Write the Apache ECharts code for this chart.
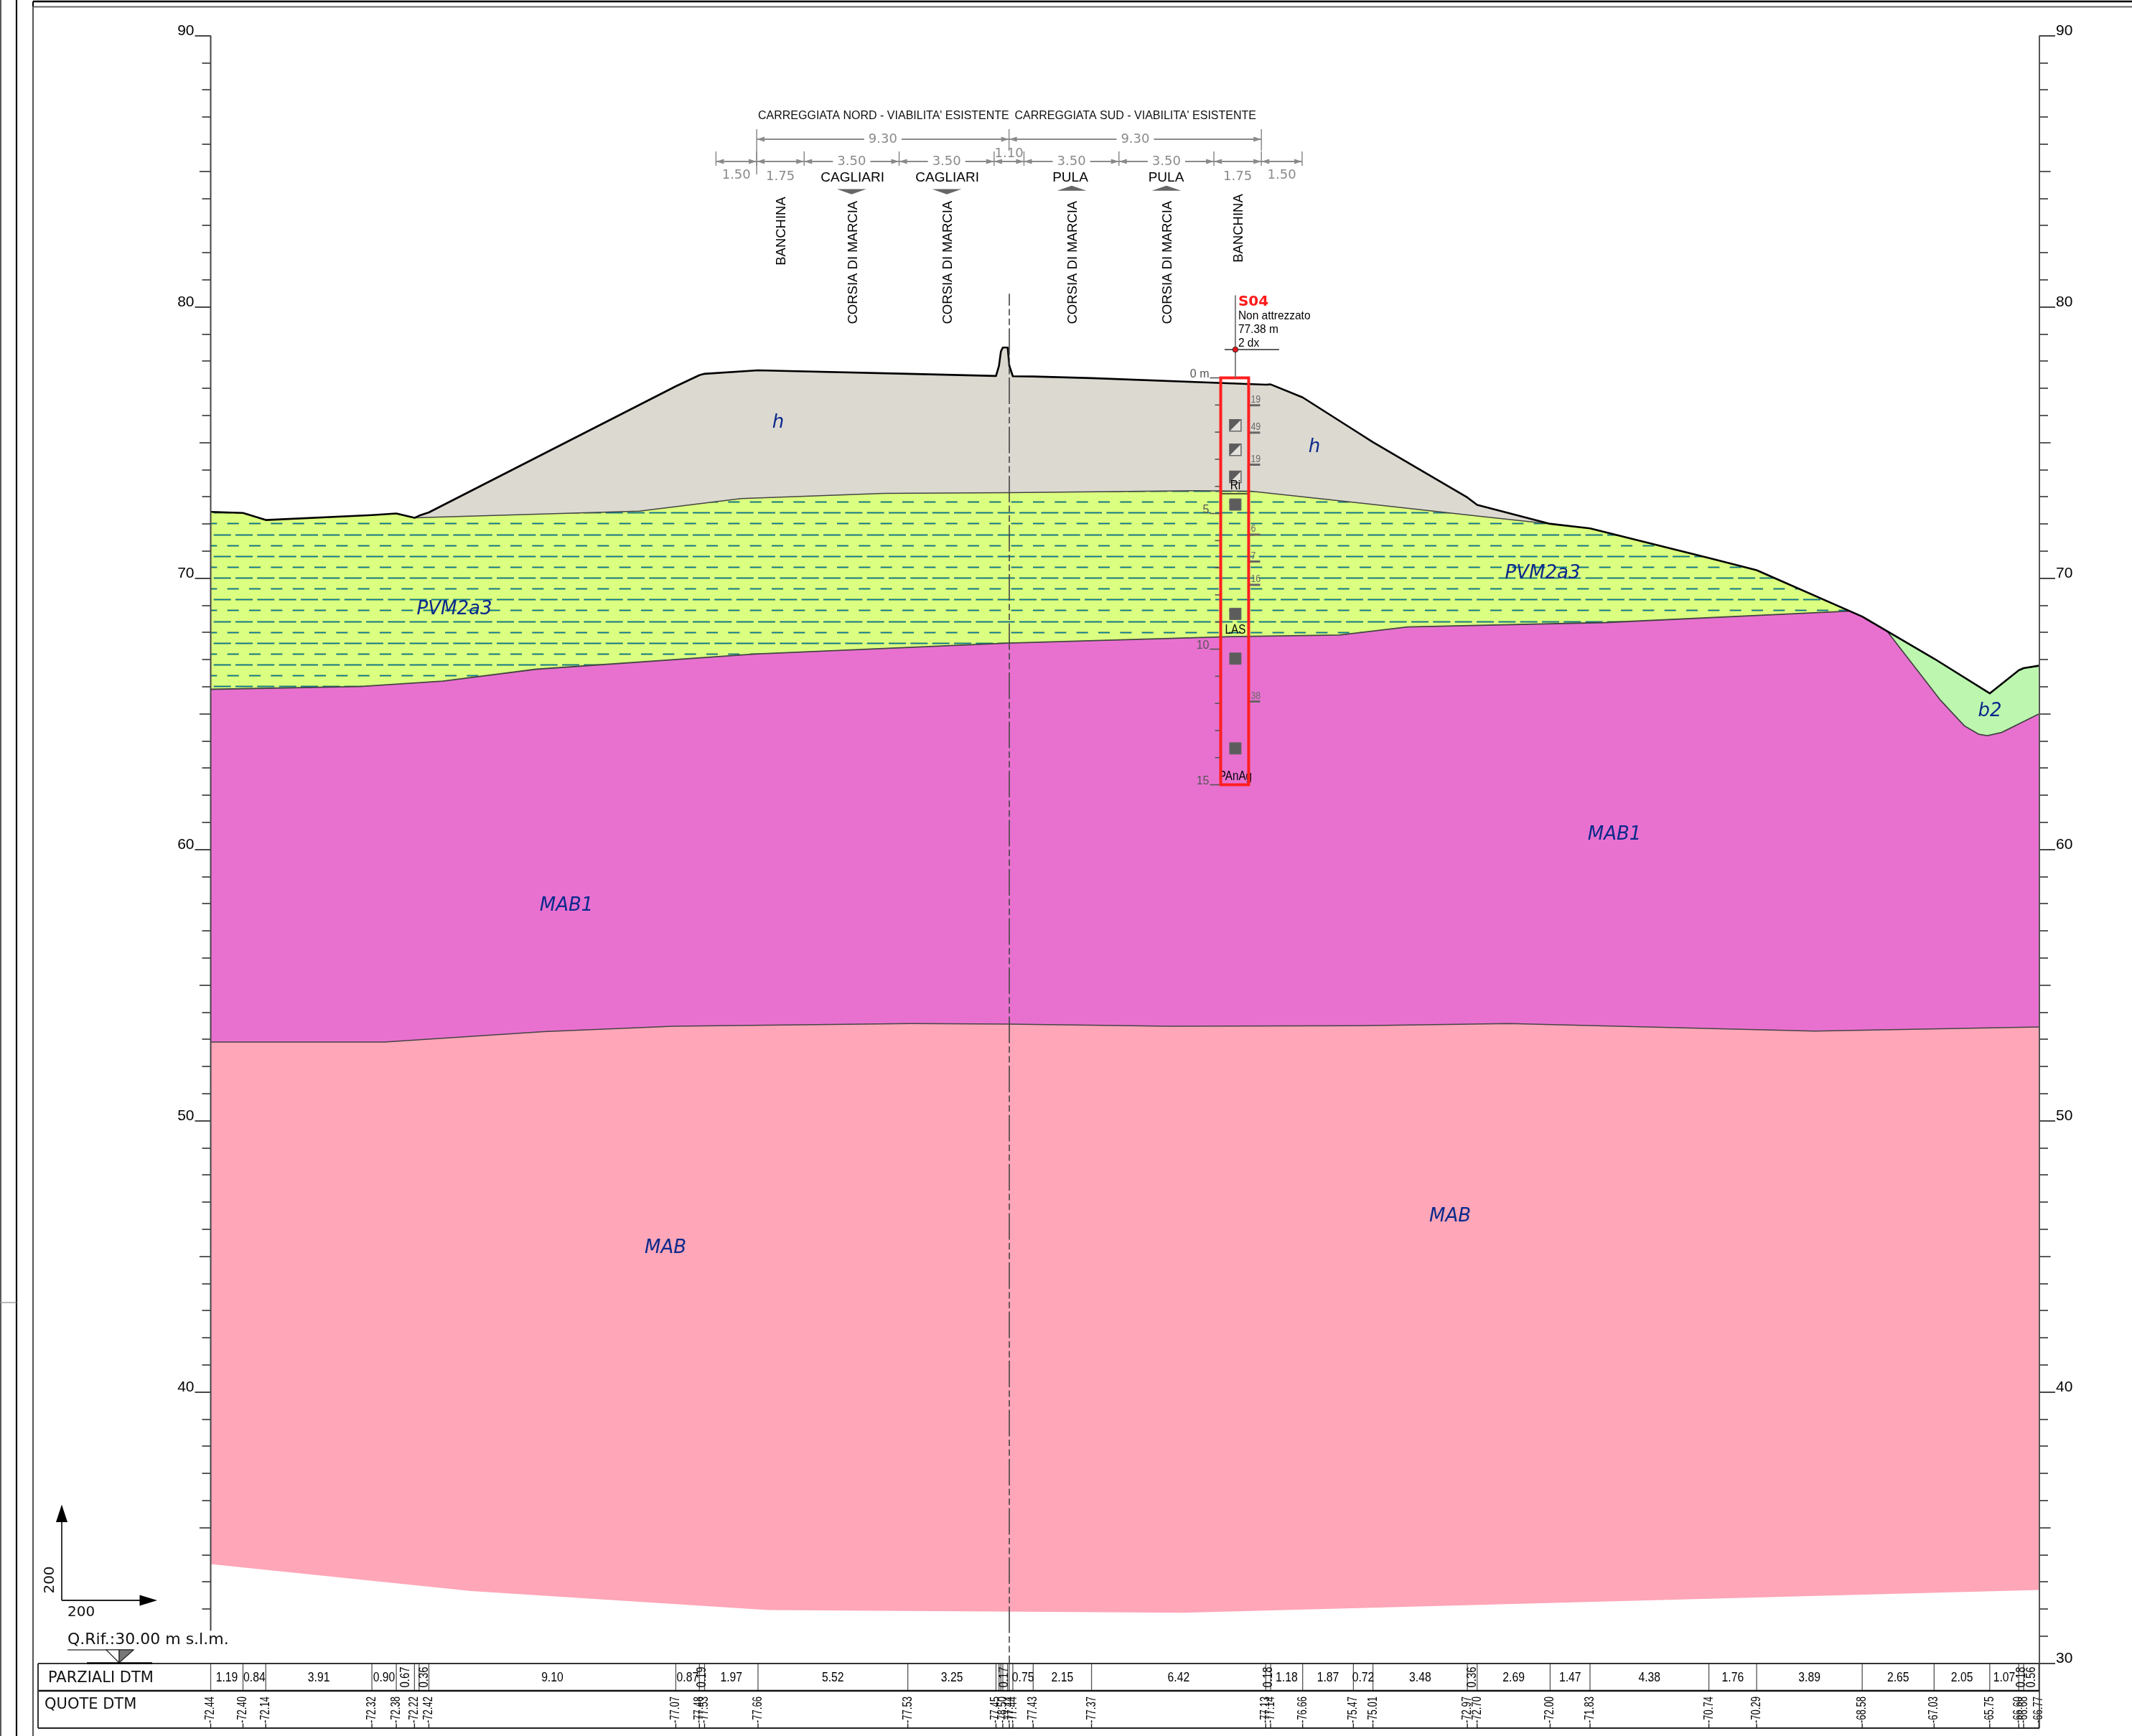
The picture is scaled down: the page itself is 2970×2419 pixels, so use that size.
<!DOCTYPE html>
<html><head><meta charset="utf-8">
<style>html,body{margin:0;padding:0;background:#fff}#c{width:2970px;height:2419px}</style>
<script src="https://cdn.jsdelivr.net/npm/echarts@6/dist/echarts.min.js"></script>
</head><body><div id="c"></div>
<script>
// ---- data (metres along section / metres a.s.l.) ----
const stationM = [0,1.19,2.03,5.94,6.84,7.51,7.68,8.04,17.14,18.01,18.20,20.17,25.69,28.94,29.05,29.12,29.19,29.37,29.43,29.56,30.31,32.46,38.88,39.06,40.24,42.11,42.83,46.31,46.67,49.36,50.83,55.21,56.97,60.86,63.51,65.56,66.63,66.81,67.37];
const groundQ  = [72.44,72.40,72.14,72.32,72.38,72.22,72.30,72.42,77.07,77.48,77.53,77.66,77.53,77.45,77.83,78.35,78.50,78.50,77.83,77.44,77.43,77.37,77.13,77.14,76.66,75.47,75.01,72.97,72.70,72.00,71.83,70.74,70.29,68.58,67.03,65.75,66.60,66.68,66.77];
const quoteText= ['72.44','72.40','72.14','72.32','72.38','72.22','','72.42','77.07','77.48','77.53','77.66','77.53','77.45','','','78.50','','77.44','77.44','77.43','77.37','77.13','77.14','76.66','75.47','75.01','72.97','72.70','72.00','71.83','70.74','70.29','68.58','67.03','65.75','66.60','66.68','66.77'];
const parzText = ['1.19','0.84','3.91','0.90','0.67','0.36','9.10','0.87','0.19','1.97','5.52','3.25','0.17','0.75','2.15','6.42','0.18','1.18','1.87','0.72','3.48','0.36','2.69','1.47','4.38','1.76','3.89','2.65','2.05','1.07','0.18','0.56'];
const parzFrom = [0,1.19,2.03,5.94,6.84,7.68,8.04,17.14,18.01,18.20,20.17,25.69,29.165,29.56,30.31,32.46,38.88,39.06,40.24,42.11,42.83,46.31,46.67,49.36,50.83,55.21,56.97,60.86,63.51,65.56,66.63,66.81];
const parzRotated = ['0.67','0.36','0.19','0.17','0.18','0.56'];

const hBaseM  = [7.51,15.79,19.54,24.80,29.41,36.33,38.35,42.50,46.85,49.36];
const hBaseQ  = [72.22,72.47,72.93,73.12,73.15,73.22,73.20,72.75,72.27,72.00];
const pvmBaseM= [0,5.50,8.55,12.00,20.05,29.40,37.60,41.60,44.10,51.40,60.35];
const pvmBaseQ= [65.90,66.00,66.20,66.64,67.20,67.60,67.84,67.90,68.20,68.36,68.78];
const mabTopM = [0,6.41,12.28,17.04,25.81,29.40,35.33,42.34,47.85,59.10,67.39];
const mabTopQ = [52.90,52.90,53.28,53.48,53.58,53.56,53.48,53.50,53.58,53.30,53.45];
const mabBotM = [0,9.60,20.55,35.83,67.39];
const mabBotQ = [33.65,32.66,31.96,31.86,32.70];
const b2BaseM = [61.77,63.75,64.63,65.16,65.47,66.00,67.39];
const b2BaseQ = [68.05,65.49,64.55,64.24,64.19,64.31,65.00];

const unitLabels = [['h',1084,589],['h',1831,623],['PVM2a3',633,849],['PVM2a3',2149,799],['MAB1',789,1262],['MAB1',2249,1163],['MAB',927,1739],['MAB',2020,1695],['b2',2772,991]];

const dimLower = [1.50,1.75,3.50,3.50,1.10,3.50,3.50,1.75,1.50];
const dimUpper = [9.30,9.30];

const boreTopQ = 77.38, boreDepth = 15;
const boreM = [37.22,38.25];
const sptDepth = [1.01,2.02,3.20,5.78,6.77,7.63,11.93];
const sptValue = ['19','49','19','6','7','16','38'];
const halfSample = [1.75,2.65,3.65];
const fullSample = [4.67,8.70,10.35,13.66];
const lithoLabel = [['Ri',3.98],['LAS',9.28],['PAnAg',14.68]];

const leftMajor=[40,50,60,70,80,90], leftMid=[35,45,55,65,75,85];
const rightMajor=[30,40,50,60,70,80,90], rightMid=[35,45,55,65,75,85];
const leftMinor=[],rightMinor=[];
for(let v=31;v<90;v++){ if(v%5) { rightMinor.push(v); if(v>=32) leftMinor.push(v);} }

// ---- helpers ----
const ARIAL='"Liberation Sans"';
const DJV='"DejaVu Sans"';
const zip=(a,b)=>a.map((v,i)=>[v,b[i]]);
const ground=zip(stationM,groundQ);
function groundBetween(a,b){return ground.filter(p=>p[0]>=a&&p[0]<=b);}
function interpGround(m){for(let i=1;i<ground.length;i++){if(ground[i][0]>=m){const p=ground[i-1],q=ground[i];return p[1]+(q[1]-p[1])*(m-p[0])/(q[0]-p[0]);}}return groundQ[groundQ.length-1];}
function T(text,x,y,font,fill,align,valign,rot,extra,sx){
  const style=Object.assign({text,x:0,y:0,font,fill:fill||'#000',align:align||'center',verticalAlign:valign||'middle',textAlign:align||'center',textVerticalAlign:valign||'middle'},extra||{});
  return {type:'text',x,y,rotation:rot||0,scaleX:sx||1,scaleY:1,style,silent:true};
}
function L(x1,y1,x2,y2,stroke,w,dash,off){return {type:'line',shape:{x1,y1,x2,y2},style:{stroke,lineWidth:w||1,lineDash:dash||null,lineDashOffset:off||0,fill:null},silent:true};}
function P(points,fill,stroke,w){return {type:'polygon',shape:{points},style:{fill:fill||'none',stroke:stroke||null,lineWidth:w||0},silent:true};}
function PL(points,stroke,w){return {type:'polyline',shape:{points},style:{fill:null,stroke,lineWidth:w,lineJoin:'round'},silent:true};}

// dash texture for the PVM2a3 unit
function dashPattern(){
  const W=91,H=121,c=document.createElement('canvas');c.width=W;c.height=H;
  const g=c.getContext('2d');
  const row=(y,x0,len)=>{
    for(let i=-1;i<6;i++){
      const x=((x0%W)+W)%W+i*W/3-W;
      g.fillStyle='rgba(40,120,90,0.5)';g.fillRect(x,y-1,len,1);g.fillRect(x,y+1,len,1);
      g.fillStyle='#08789f';g.fillRect(x,y,len,1);
    }
  };
  for(let k=0;k<8;k++){
    const y=Math.floor((805.5+k*15.125)%H);
    if(k%2===0) row(y,297.67,24); else row(y,316.67,16);
  }
  return c;
}
const dashFill={image:dashPattern(),repeat:'repeat'};

function layer(name,polyFn,outline,z){
  return {type:'custom',name,coordinateSystem:'cartesian2d',xAxisIndex:0,yAxisIndex:0,silent:true,clip:false,z:z||2,data:[[0,0]],
    renderItem:(p,api)=>({type:'group',children:polyFn(pts=>pts.map(q=>api.coord(q)),api)})};
}
const pvmTop=[...groundBetween(0,7.51),...zip(hBaseM,hBaseQ).slice(1,-1),...groundBetween(49.36,60.35),[60.35,pvmBaseQ[pvmBaseQ.length-1]]];
const pvmBase=zip(pvmBaseM,pvmBaseQ);
const hTop=groundBetween(7.51,49.36);
const hBase=zip(hBaseM,hBaseQ);
const b2Base=zip(b2BaseM,b2BaseQ);
const b2Top=[[61.77,interpGround(61.77)],...groundBetween(61.78,67.37),[67.39,66.77]];
const mabTop=zip(mabTopM,mabTopQ), mabBot=zip(mabBotM,mabBotQ);
const line='#444';

const series=[
 layer('MAB',c=>[P(c([...mabTop,...mabBot.slice().reverse()]),'#ffa6b8')],null,2),
 layer('MAB1',c=>[P(c([...pvmBase,[61.0,interpGround(61.0)],[61.77,interpGround(61.77)],...b2Base,...mabTop.slice().reverse()]),'#e871d0'),PL(c(mabTop),line,1.5)],null,3),
 layer('PVM2a3',c=>[P(c([...pvmTop,...pvmBase.slice().reverse()]),'#dbff80'),P(c([...pvmTop,...pvmBase.slice().reverse()]),dashFill),PL(c(pvmBase),line,1.8)],null,4),
 layer('h',c=>[P(c([...hTop,...hBase.slice().reverse()]),'#dcd9d1'),PL(c(hBase),line,1.5)],null,5),
 layer('b2',c=>[P(c([...b2Top,...b2Base.slice().reverse()]),'#bdf7af'),PL(c(b2Base),line,1.8)],null,5),
 layer('ground',c=>[PL(c(ground),'#000',2.6)],null,6),
 // axis lines, centre line
 layer('axisLines',(c,api)=>{
   const a=c([[0,31.2],[0,90]]),b=c([[67.39,30],[67.39,90]]),m=c([[29.43,80.48],[29.43,30]]);
   return [L(a[0][0],a[0][1],a[1][0],a[1][1],'#444',2),L(b[0][0],b[0][1],b[1][0],b[1][1],'#555',2),
     L(m[0][0],m[0][1],m[1][0],m[1][1],'#444',1.6,[37,4.5,9,4.5,9,4.5],20.3)];
 },null,7),
 // borehole
 layer('S04',(c,api)=>{
   const X=m=>api.coord([m,60])[0],Y=q=>api.coord([30,q])[1],out=[];
   const xl=X(boreM[0]),xr=X(boreM[1]),xm=X(37.76),yt=Y(boreTopQ),yb=Y(boreTopQ-boreDepth);
   for(let d=0;d<=boreDepth;d++){const maj=d%5===0,y=Y(boreTopQ-d);out.push(L(maj?xl-15:xl-8,y,xl,y,'#555',1.6));
     if(maj&&d>0)out.push(T(String(d),xl-16,y-5,'16px '+ARIAL,'#555','right','middle'));
     if(d===0)out.push(T('0 m',xl-16,y-5,'16px '+ARIAL,'#555','right','middle'));}
   sptDepth.forEach((d,i)=>{const y=Y(boreTopQ-d);out.push(L(xr,y,xr+16,y,'#666',3));out.push(T(sptValue[i],xr+3,y-8,'15.5px '+ARIAL,'#6a6a6a','left','middle',0,null,.8));});
   halfSample.forEach(d=>{const y=Y(boreTopQ-d),s=8;out.push({type:'rect',shape:{x:xm-s,y:y-s,width:2*s,height:2*s},style:{fill:'#e4e2dc',stroke:'#666',lineWidth:1.5},silent:true});
     out.push(P([[xm-s,y-s],[xm+s,y-s],[xm-s,y+s]],'#5c5c5c'));});
   fullSample.forEach(d=>{const y=Y(boreTopQ-d),s=8;out.push({type:'rect',shape:{x:xm-s,y:y-s,width:2*s,height:2*s},style:{fill:'#5c5c5c',stroke:'#666',lineWidth:1},silent:true});});
   lithoLabel.forEach(l=>{out.push(T(l[0],xm,Y(boreTopQ-l[1]),'19px '+ARIAL,'#000','center','middle',0,null,.8));});
   out.push(L(xl,Y(boreTopQ-4.27),xr,Y(boreTopQ-4.27),'#222',1.4));
   out.push({type:'rect',shape:{x:xl,y:yt,width:xr-xl,height:yb-yt},style:{fill:'none',stroke:'#ff1f1f',lineWidth:4},silent:true});
   // head
   const yh=Y(boreTopQ)-39.4;
   out.push(L(xm,yt,xm,yt-115,'#666',1.6));
   out.push(L(xm-15,yh,xm+61,yh,'#000',1.4));
   out.push({type:'circle',shape:{cx:xm,cy:yh,r:3.8},style:{fill:'#e8141c',stroke:'#333',lineWidth:1},silent:true});
   out.push(T('S04',xm+4,yt-106,'bold 20px '+DJV,'#ff1a1a','left','middle'));
   out.push(T('Non attrezzato',xm+4,yt-86,'17px '+ARIAL,'#000','left','middle',0,null,.91));
   out.push(T('77.38 m',xm+4,yt-67,'17px '+ARIAL,'#000','left','middle',0,null,.91));
   out.push(T('2 dx',xm+4,yt-48,'17px '+ARIAL,'#000','left','middle',0,null,.91));
   return out;
 },null,8),
 // dimensions above the section
 layer('dims',(c,api)=>{
   const X=m=>api.coord([m,60])[0],out=[],gray='#8a8a8a',font='18px '+DJV;
   const arrow=(x,y,dir)=>P([[x,y],[x+dir*11,y-3.5],[x+dir*11,y+3.5]],gray);
   let m=18.62;const yLow=225,yUp=194;
   const lowText=[244,246,225,225,214,225,225,246,244];
   dimLower.forEach((w,i)=>{const a=X(m),b=X(m+w);
     out.push(L(a,211,a,231,gray,1.5));out.push(L(a,yLow,b,yLow,gray,2));out.push(arrow(a,yLow,1));out.push(arrow(b,yLow,-1));
     if(i===dimLower.length-1)out.push(L(b,211,b,231,gray,1.5));
     m+=w;});
   m=18.62;
   dimLower.forEach((w,i)=>{const a=X(m),b=X(m+w);
     out.push(T(w.toFixed(2),(a+b)/2,lowText[i],font,gray,'center','middle',0,lowText[i]===yLow?{backgroundColor:'#fff',padding:[0,6]}:{}));m+=w;});
   m=20.12;
   dimUpper.forEach((w,i)=>{const a=X(m),b=X(m+w);
     out.push(L(a,180,a,i===0?243:210,gray,1.5));out.push(L(a,yUp,b,yUp,gray,2));out.push(arrow(a,yUp,1));out.push(arrow(b,yUp,-1));
     if(i===1)out.push(L(b,180,b,210,gray,1.5));
     out.push(T(w.toFixed(2),(a+b)/2,yUp,font,gray,'center','middle',0,{backgroundColor:'#fff',padding:[0,6]}));m+=w;});
   return out;
 },null,9),
 // table under the section
 layer('table',(c,api)=>{
   const X=m=>api.coord([m,60])[0],out=[];
   const top=2318,mid=2356,bot=2408;
   stationM.forEach((m,i)=>{const x=X(m);
     out.push(L(x,top,x,mid,'#555',1.3));
     if(quoteText[i]){out.push(L(x,bot-6.5,x,bot,'#222',1.4));
       out.push(T('-'+quoteText[i],x,bot-7,'18px '+ARIAL,'#000','left','middle',Math.PI/2,null,.725));}
   });
   parzText.forEach((t,i)=>{const v=parseFloat(t),xm=X(parzFrom[i]+v/2);
     if(parzRotated.indexOf(t)>=0) out.push(T(t,xm,2337,'19px '+ARIAL,'#000','center','middle',Math.PI/2,null,.78));
     else out.push(T(t,xm,2338,'18.5px '+ARIAL,'#000','center','middle',0,null,.85));
   });
   return out;
 },null,9)
];

function yA(pos,major,mid,minor){
  const base={type:'value',min:30,max:90,position:pos,axisLine:{show:false},splitLine:{show:false}};
  const tickStyle=w=>({color:'#333',width:w});
  return [
   Object.assign({},base,{axisTick:{show:true,customValues:major,length:22,lineStyle:tickStyle(1.8)},
     axisLabel:{show:true,customValues:major,margin:23,color:'#000',fontFamily:ARIAL,fontSize:21,verticalAlign:'bottom',lineHeight:12,showMinLabel:true,showMaxLabel:true,formatter:v=>String(v)}}),
   Object.assign({},base,{axisTick:{show:true,customValues:mid,length:15.6,lineStyle:tickStyle(1.6)},axisLabel:{show:false}}),
   Object.assign({},base,{axisTick:{show:true,customValues:minor,length:12,lineStyle:tickStyle(1.6)},axisLabel:{show:false}})
  ];
}

// fixed drawing furniture
const gfx=[];
const G=(o)=>gfx.push(Object.assign({z:20},o));
// sheet frame
G(L(1,0,1,2419,'#222',1.5));G(L(23,0,23,2419,'#111',2.2));G(L(46,9,46,2419,'#555',2));
G(L(46,9.5,2970,9.5,'#666',2));G(L(46,2,2970,2,'#000',2.4));G(L(46,2,46,9,'#000',2));
G(L(0,1815,23,1815,'#888',1.2));
// table frame
G(L(53,2318,2841,2318,'#333',2));G(L(53,2356,2841,2356,'#111',2.4));G(L(53,2408,2841,2408,'#222',2));
G(L(53,2318,53,2408,'#333',2));G(L(2841,2318,2841,2408,'#333',1.6));
G(T('PARZIALI DTM',67,2339,'21px '+DJV,'#111','left','middle'));
G(T('QUOTE DTM',62,2376,'21px '+DJV,'#111','left','middle'));
// scale arrows
G(L(86,2230,86,2118,'#222',1.8));G(P([[86,2096.5],[78,2121],[94,2121]],'#000'));
G(L(86,2230,196,2230,'#222',1.8));G(P([[219,2230],[194.5,2222.5],[194.5,2237.5]],'#000'));
G(T('200',70,2201.5,'20px '+DJV,'#111','center','middle',Math.PI/2));
G(T('200',94,2247,'20px '+DJV,'#111','left','middle'));
G(T('Q.Rif.:30.00 m s.l.m.',94,2285,'22px '+DJV,'#111','left','middle'));
G(L(94,2299,186,2299,'#444',1.6));G(P([[148,2299],[166,2317],[166,2299]],'#fff','#222',1.2));G(P([[166,2299],[186,2299],[166,2317]],'#777','#222',1.2));
G(L(121,2317.5,212,2317.5,'#000',2.6));
// road description
G(T("CARREGGIATA NORD - VIABILITA' ESISTENTE",1056,161.5,'16px '+ARIAL,'#111','left','middle'));
G(T("CARREGGIATA SUD - VIABILITA' ESISTENTE",1413.5,161.5,'16px '+ARIAL,'#111','left','middle'));
[['CAGLIARI',1187.6],['CAGLIARI',1319.7],['PULA',1491],['PULA',1624.5]].forEach(a=>G(T(a[0],a[1],248,'19px '+ARIAL,'#000','center','middle')));
[1186.4,1319].forEach(x=>G(P([[x-20.5,263.5],[x+20.5,263.5],[x,270.7]],'#666')));
[1493,1625].forEach(x=>G(P([[x-20.5,265.7],[x+20.5,265.7],[x,258.7]],'#666')));
[['BANCHINA',1089,322],['CORSIA DI MARCIA',1189,365.7],['CORSIA DI MARCIA',1321,365.7],['CORSIA DI MARCIA',1495,365.7],['CORSIA DI MARCIA',1627,365.7],['BANCHINA',1726,318]]
  .forEach(a=>G(T(a[0],a[1],a[2],'18.5px '+ARIAL,'#000','center','middle',Math.PI/2)));
unitLabels.forEach(u=>G(T(u[0],u[1],u[2],'italic 26px '+DJV,'#0a2a8c','center','middle')));

const chart=echarts.init(document.getElementById('c'),null,{renderer:'canvas',width:2970,height:2419});
chart.setOption({
  animation:false,backgroundColor:'#fff',
  grid:{left:293.5,top:49.5,width:2547.5,height:2268,containLabel:false},
  xAxis:{type:'value',min:0,max:67.39,show:false},
  yAxis:[...yA('left',leftMajor,leftMid,leftMinor),...yA('right',rightMajor,rightMid,rightMinor)],
  graphic:{elements:gfx},
  series
});
</script></body></html>
